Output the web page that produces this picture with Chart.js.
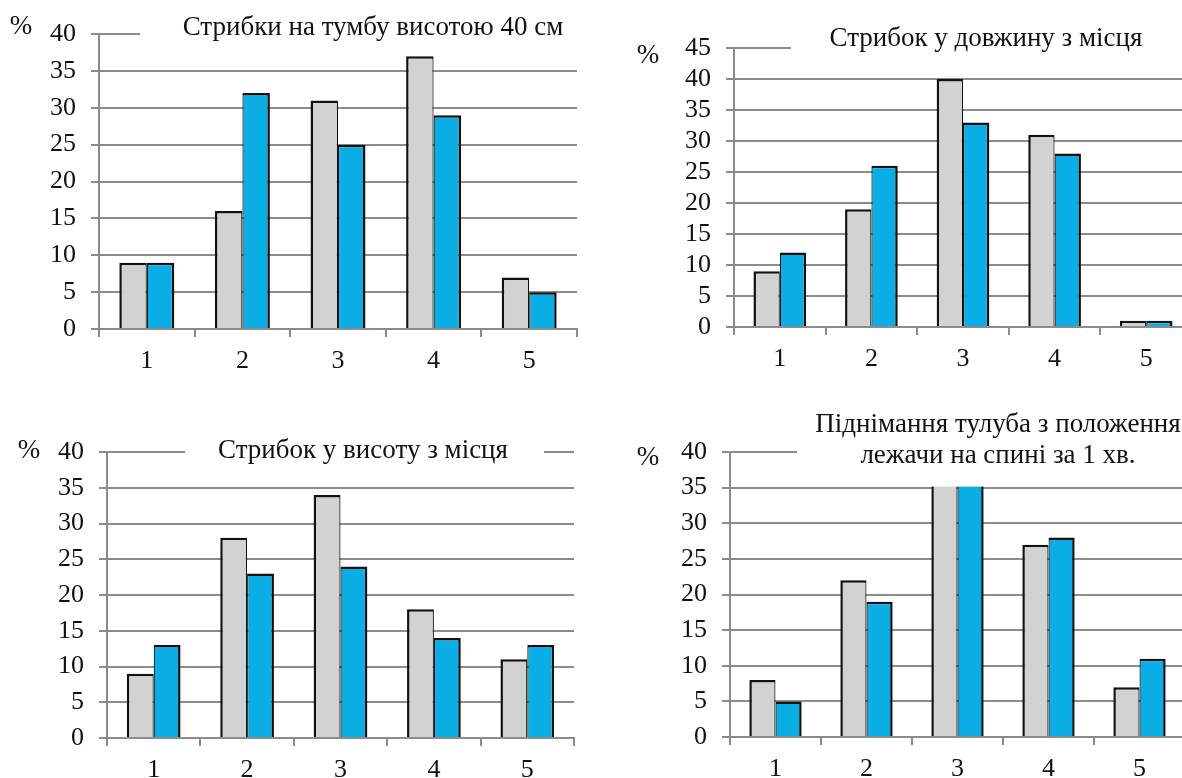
<!DOCTYPE html>
<html>
<head>
<meta charset="utf-8">
<script src="https://cdn.jsdelivr.net/npm/chart.js@4.4.0/dist/chart.umd.min.js"></script>
<style>
  html, body { margin: 0; padding: 0; background: #fff; }
  body { width: 1182px; height: 778px; overflow: hidden; position: relative; }
  canvas { position: absolute; }
</style>
</head>
<body>
<canvas id="c1" width="600" height="390" style="left:0;top:0"></canvas>
<canvas id="c2" width="620" height="390" style="left:600px;top:0"></canvas>
<canvas id="c3" width="600" height="378" style="left:0;top:400px"></canvas>
<canvas id="c4" width="620" height="378" style="left:600px;top:400px"></canvas>
<script>
// категорії (бали)
const categories = ['1', '2', '3', '4', '5'];

// Стрибки на тумбу висотою 40 см
const tumbaGray = [9, 16, 31, 37, 7];
const tumbaBlue = [9, 32, 25, 29, 5];

// Стрибок у довжину з місця
const dovzhynaGray = [9, 19, 40, 31, 1];
const dovzhynaBlue = [12, 26, 33, 28, 1];

// Стрибок у висоту з місця
const vysotaGray = [9, 28, 34, 18, 11];
const vysotaBlue = [13, 23, 24, 14, 13];

// Піднімання тулуба (стовпчики 3 сховані під заголовком)
const tulubGray = [8, 22, 36, 27, 7];
const tulubBlue = [5, 19, 37, 28, 11];

const yMax1 = 40, yMax2 = 45, yMax3 = 40, yMax4 = 40;
const yStep = 5;

const FONT = '"Liberation Serif", "Times New Roman", serif';
const TEXT = '#111';
const GRID = '#8c8c8c';
const GRAY = '#d1d2d1';
const BLUE = '#0aaee4';
const EDGE = '#111';

// заголовок з білою плашкою, знак %
const decor = {
  id: 'decor',
  afterDatasetsDraw(chart, args, o) {
    const ctx = chart.ctx;
    const y = chart.scales.y;
    ctx.save();
    ctx.fillStyle = '#fff';
    const bottom = y.getPixelForValue(o.boxBottom) - o.boxLift;
    ctx.fillRect(o.boxX1, 0, o.boxX2 - o.boxX1, bottom);
    ctx.fillStyle = TEXT;
    ctx.textAlign = 'center';
    ctx.textBaseline = 'middle';
    ctx.font = '27px ' + FONT;
    o.lines.forEach((t, i) => ctx.fillText(t, o.titleX, o.titleY + i * 31));
    ctx.font = '27px ' + FONT;
    ctx.fillText('%', o.pctX, o.pctY);
    ctx.restore();
  }
};

function makeChart(id, gray, blue, yMax, g, d) {
  const ctx = document.getElementById(id).getContext('2d');
  return new Chart(ctx, {
    type: 'bar',
    data: {
      labels: categories,
      datasets: [{
        data: gray,
        backgroundColor: GRAY,
        borderColor: EDGE,
        borderWidth: { top: 2.5, left: 2.5, right: 1.2, bottom: 0 },
        borderSkipped: 'start'
      }, {
        data: blue,
        backgroundColor: BLUE,
        borderColor: EDGE,
        borderWidth: { top: 2.5, left: 1.2, right: 2.5, bottom: 0 },
        borderSkipped: 'start'
      }]
    },
    options: {
      responsive: false,
      animation: false,
      devicePixelRatio: 1,
      categoryPercentage: 0.575,
      barPercentage: 1,
      layout: { padding: { left: 0, top: g.top, right: g.right, bottom: 0 } },
      plugins: {
        legend: { display: false },
        tooltip: { enabled: false },
        decor: d
      },
      scales: {
        x: {
          offset: true,
          afterFit: s => { s.height = g.xh; },
          grid: { offset: true, drawOnChartArea: false, color: GRID, lineWidth: 2, tickLength: 8 },
          border: { color: GRID, width: 2 },
          ticks: { color: TEXT, font: { family: FONT, size: 26 }, padding: 9, maxRotation: 0 }
        },
        y: {
          min: 0,
          max: yMax,
          afterFit: s => { s.width = g.yw; },
          grid: { color: GRID, lineWidth: 2, tickLength: 8 },
          border: { color: GRID, width: 2 },
          ticks: { stepSize: yStep, autoSkip: false, color: TEXT, font: { family: FONT, size: 26 }, padding: 15 }
        }
      }
    },
    plugins: [decor]
  });
}

makeChart('c1', tumbaGray, tumbaBlue, yMax1,
  { yw: 99, top: 34, right: 23, xh: 61 },
  { lines: ['Стрибки на тумбу висотою 40 см'], titleX: 373, titleY: 28,
    boxX1: 140, boxX2: 600, boxBottom: 38.5, boxLift: 0, pctX: 21, pctY: 27 });

makeChart('c2', dovzhynaGray, dovzhynaBlue, yMax2,
  { yw: 134, top: 48, right: 28, xh: 63 },
  { lines: ['Стрибок у довжину з місця'], titleX: 386, titleY: 39,
    boxX1: 191, boxX2: 620, boxBottom: 43, boxLift: 0, pctX: 48, pctY: 56 });

makeChart('c3', vysotaGray, vysotaBlue, yMax3,
  { yw: 107, top: 52, right: 26, xh: 40 },
  { lines: ['Стрибок у висоту з місця'], titleX: 363, titleY: 51,
    boxX1: 185, boxX2: 544, boxBottom: 38.5, boxLift: 0, pctX: 29, pctY: 51 });

makeChart('c4', tulubGray, tulubBlue, yMax4,
  { yw: 130, top: 52, right: 35, xh: 41 },
  { lines: ['Піднімання тулуба з положення', 'лежачи на спині за 1 хв.'], titleX: 398, titleY: 25,
    boxX1: 197, boxX2: 620, boxBottom: 35, boxLift: 1, pctX: 48, pctY: 58 });
</script>
</body>
</html>
